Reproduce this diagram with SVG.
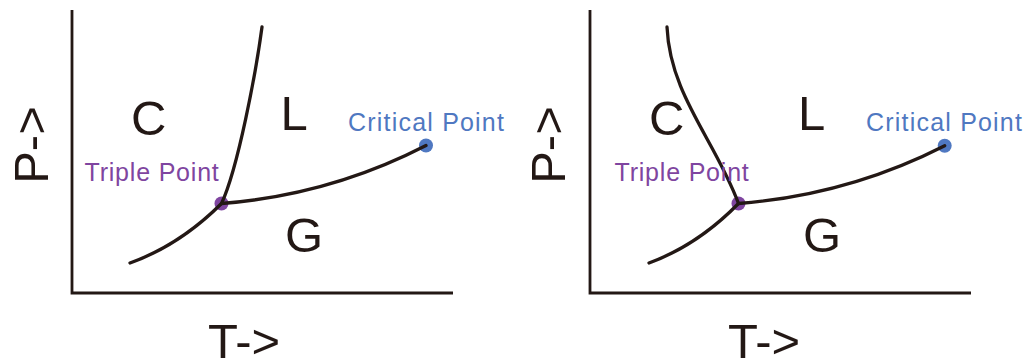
<svg xmlns="http://www.w3.org/2000/svg" width="1025" height="359" viewBox="0 0 1025 359">
<style>
.axis{fill:none;stroke:#231815;stroke-width:2.8}
.curve{fill:none;stroke:#231815;stroke-width:3.3;stroke-linecap:round}
.big{font-family:"Liberation Sans",Arial,sans-serif;font-size:49px;fill:#231815}
.tp{font-family:"Liberation Sans",Arial,sans-serif;font-size:25px;fill:#7F45A0;letter-spacing:0.8px}
.cp{font-family:"Liberation Sans",Arial,sans-serif;font-size:25px;fill:#4F78C1;letter-spacing:1.2px}
.tpd{fill:#7F45A0}
.cpd{fill:#4F78C1}
</style>
<rect width="1025" height="359" fill="#ffffff"/>
<g id="left-panel">
  <g id="left-axes">
    <path class="axis" d="M72,10 V293 H453"/>
    <text class="big" x="208" y="358">T-&gt;</text>
    <text class="big" transform="translate(48,145) rotate(-90)" text-anchor="middle">P-&gt;</text>
  </g>
  <g id="left-points">
    <circle class="tpd" cx="221.5" cy="203.5" r="7"/>
    <circle class="cpd" cx="426" cy="145.5" r="7"/>
  </g>
  <g id="left-connectors">
    <path class="curve" d="M262,27 C256,72 238,168 221.5,203.5"/>
    <path class="curve" d="M130,263 Q180,245 221.5,203.5"/>
    <path class="curve" d="M221.5,203.5 Q330,195 426,145.5"/>
  </g>
  <g id="left-labels">
    <text class="big" x="131" y="135">C</text>
    <text class="big" x="280.5" y="130">L</text>
    <text class="big" x="285" y="252">G</text>
    <text class="tp" x="84.5" y="181">Triple Point</text>
    <text class="cp" x="348" y="131">Critical Point</text>
  </g>
</g>
<g id="right-panel">
  <g id="right-axes">
    <path class="axis" d="M590,10 V293 H971"/>
    <text class="big" x="728" y="358">T-&gt;</text>
    <text class="big" transform="translate(565,145) rotate(-90)" text-anchor="middle">P-&gt;</text>
  </g>
  <g id="right-points">
    <circle class="tpd" cx="738.5" cy="203.5" r="7"/>
    <circle class="cpd" cx="944.7" cy="145.7" r="7"/>
  </g>
  <g id="right-connectors">
    <path class="curve" d="M667,27 C670,95 715,140 738.5,203.5"/>
    <path class="curve" d="M649,263 Q698,245 738.5,203.5"/>
    <path class="curve" d="M738.5,203.5 Q848,195 944.7,145.7"/>
  </g>
  <g id="right-labels">
    <text class="big" x="649" y="135">C</text>
    <text class="big" x="798" y="130">L</text>
    <text class="big" x="803" y="252">G</text>
    <text class="tp" x="614.5" y="181">Triple Point</text>
    <text class="cp" x="866" y="131">Critical Point</text>
  </g>
</g>
</svg>
